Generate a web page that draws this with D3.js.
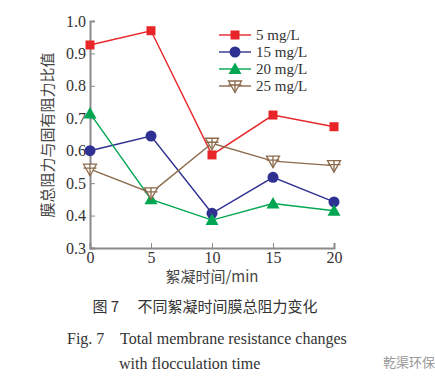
<!DOCTYPE html>
<html><head><meta charset="utf-8">
<script src="https://cdn.jsdelivr.net/npm/d3@7"></script>
<style>body{margin:0;background:#fff}</style>
</head><body><svg id="c" width="435" height="382"></svg>
<script>
const times = [0, 5, 10, 15, 20];
const seriesNames = ["5 mg/L", "15 mg/L", "20 mg/L", "25 mg/L"];
const s5 = [0.926, 0.970, 0.587, 0.710, 0.674];
const s15 = [0.600, 0.645, 0.407, 0.518, 0.442];
const s20 = [0.715, 0.450, 0.386, 0.437, 0.415];
const s25 = [0.543, 0.470, 0.623, 0.568, 0.554];
const xTicks = [0, 5, 10, 15, 20];
const yTicks = [0.3, 0.4, 0.5, 0.6, 0.7, 0.8, 0.9, 1.0];
const colors = ["#e8262a", "#2e3192", "#00a651", "#8c6a4c"];
const markers = ["square", "circle", "triangle", "downtri"];

const svg = d3.select("#c");
const x = d3.scaleLinear().domain([0, 20]).range([90, 334]);
const y = d3.scaleLinear().domain([0.3, 1.0]).range([248, 21]);
const axisCol = "#8a8a8a";
const serif = "'Liberation Serif','DejaVu Serif',serif";
const cjk = "'Noto Sans CJK SC',sans-serif";

const gx = svg.append("g").attr("transform", "translate(0,248)")
  .call(d3.axisBottom(x).tickValues(xTicks).tickSize(-5).tickPadding(4).tickFormat(d3.format("d")));
const gy = svg.append("g").attr("transform", "translate(90,0)")
  .call(d3.axisLeft(y).tickValues(yTicks).tickSize(-5).tickPadding(4).tickFormat(d3.format(".1f")));
[gx, gy].forEach(g => {
  g.selectAll("path").attr("stroke", axisCol).attr("stroke-width", 2);
  g.selectAll("line").attr("stroke", axisCol).attr("stroke-width", 1);
  g.selectAll("text").attr("font-family", serif).attr("font-size", 16).attr("fill", "#333");
});
gx.selectAll(".tick line").attr("y2", -5);

function drawMarker(g, type, cx, cy, col) {
  if (type === "square") g.append("rect").attr("x", cx - 4.5).attr("y", cy - 4.5).attr("width", 9).attr("height", 9).attr("fill", col);
  else if (type === "circle") g.append("circle").attr("cx", cx).attr("cy", cy).attr("r", 5.5).attr("fill", col);
  else if (type === "triangle") g.append("path").attr("d", `M${cx},${cy-6.5}L${cx+6.5},${cy+5}L${cx-6.5},${cy+5}Z`).attr("fill", col);
  else {
    g.append("path").attr("d", `M${cx-6.5},${cy-5}L${cx+6.5},${cy-5}L${cx},${cy+6.5}Z`).attr("fill", "#fff").attr("stroke", col).attr("stroke-width", 1.3);
    g.append("path").attr("d", `M${cx-6.5},${cy-1}L${cx+6.5},${cy-1}M${cx},${cy-5}L${cx},${cy+6.5}`).attr("stroke", col).attr("stroke-width", 1.3);
  }
}

const allSeries = [s5, s15, s20, s25];
const line = d3.line().x((d, i) => x(times[i])).y(d => y(d));
allSeries.forEach((s, k) => {
  svg.append("path").datum(s).attr("d", line).attr("fill", "none").attr("stroke", colors[k]).attr("stroke-width", 1.4);
});
allSeries.forEach((s, k) => {
  const g = svg.append("g");
  s.forEach((v, i) => drawMarker(g, markers[k], x(times[i]), y(v), colors[k]));
});

// legend
seriesNames.forEach((n, k) => {
  const ly = 35 + k * 17;
  svg.append("line").attr("x1", 219).attr("x2", 251).attr("y1", ly).attr("y2", ly).attr("stroke", colors[k]).attr("stroke-width", 1.4);
  drawMarker(svg.append("g"), markers[k], 235, ly, colors[k]);
  svg.append("text").attr("x", 256).attr("y", ly + 5).text(n).attr("font-family", serif).attr("font-size", 15).attr("fill", "#333");
});

// axis titles
svg.append("text").attr("transform", "translate(53,135) rotate(-90)").attr("text-anchor", "middle")
  .attr("font-family", cjk).attr("font-size", 15).attr("fill", "#444").text("膜总阻力与固有阻力比值");
svg.append("text").attr("x", 212).attr("y", 282).attr("text-anchor", "middle")
  .attr("font-family", cjk).attr("font-size", 15).attr("fill", "#444").text("絮凝时间/min");

// caption
svg.append("text").attr("x", 205).attr("y", 312).attr("text-anchor", "middle")
  .attr("font-family", cjk).attr("font-size", 15).attr("fill", "#333").attr("xml:space", "preserve").text("图 7　 不同絮凝时间膜总阻力变化");
svg.append("text").attr("x", 67).attr("y", 344).attr("font-family", serif).attr("font-size", 16).attr("fill", "#333")
  .attr("xml:space", "preserve").text("Fig. 7    Total membrane resistance changes");
svg.append("text").attr("x", 119).attr("y", 369).attr("font-family", serif).attr("font-size", 16).attr("fill", "#333")
  .text("with flocculation time");
svg.append("text").attr("x", 383).attr("y", 367).attr("font-family", cjk).attr("font-size", 13).attr("fill", "#999").text("乾渠环保");
</script></body></html>
